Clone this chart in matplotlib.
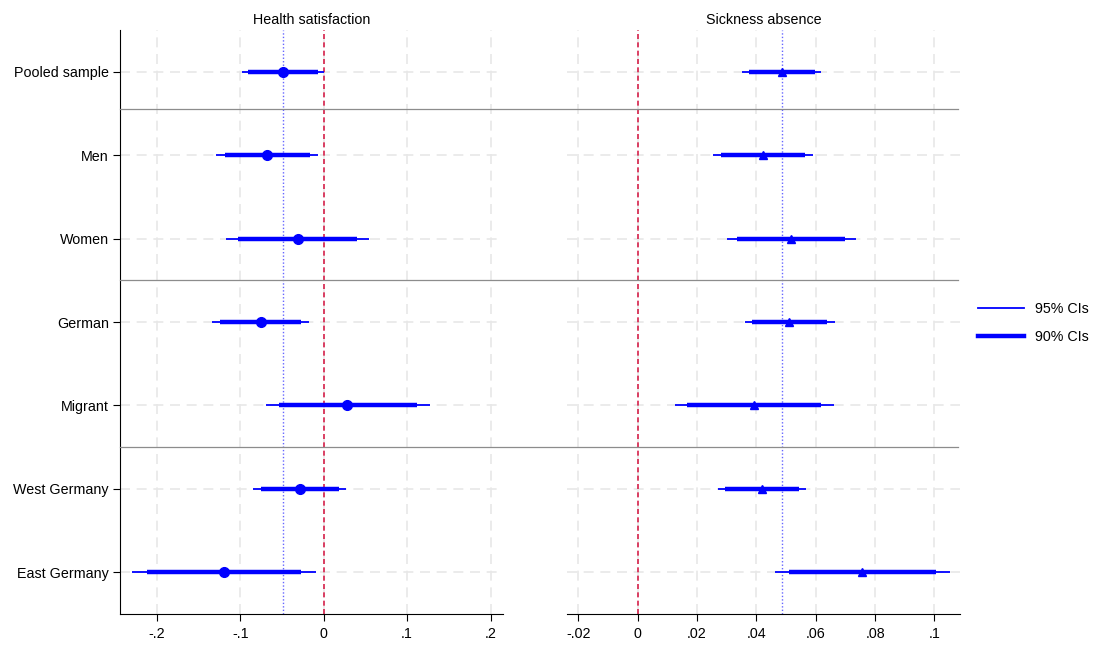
import matplotlib
matplotlib.use("Agg")
import matplotlib.pyplot as plt
from matplotlib.lines import Line2D

plt.rcParams['font.family'] = ['Liberation Sans', 'DejaVu Sans']

groups = ["Pooled sample", "Men", "Women", "German", "Migrant", "West Germany", "East Germany"]

# health satisfaction: estimate, 90% CI, 95% CI
hs_est = [-0.049, -0.068, -0.0315, -0.0758, 0.0284, -0.029, -0.1198]
hs_lo90 = [-0.0907, -0.119, -0.103, -0.124, -0.0539, -0.0758, -0.2124]
hs_hi90 = [-0.0068, -0.0164, 0.040, -0.0275, 0.1114, 0.018, -0.0275]
hs_lo95 = [-0.0986, -0.129, -0.117, -0.1337, -0.0695, -0.085, -0.2299]
hs_hi95 = [0.0004, -0.0064, 0.054, -0.018, 0.1273, 0.027, -0.0096]

# sickness absence
sa_est = [0.0485, 0.0422, 0.0516, 0.0511, 0.0393, 0.0418, 0.0757]
sa_lo90 = [0.0375, 0.0281, 0.0335, 0.0385, 0.0167, 0.0293, 0.0509]
sa_hi90 = [0.0598, 0.0564, 0.0699, 0.0638, 0.0618, 0.0543, 0.1006]
sa_lo95 = [0.0353, 0.0254, 0.030, 0.036, 0.0125, 0.027, 0.0463]
sa_hi95 = [0.0618, 0.0591, 0.0735, 0.0664, 0.0661, 0.0567, 0.1053]

hs_ticks = [-0.2, -0.1, 0, 0.1, 0.2]
hs_labels = ["-.2", "-.1", "0", ".1", ".2"]
sa_ticks = [-0.02, 0, 0.02, 0.04, 0.06, 0.08, 0.1]
sa_labels = ["-.02", "0", ".02", ".04", ".06", ".08", ".1"]

separators = [0.45, 2.5, 4.5]

W, H = 1093, 646
fig = plt.figure(figsize=(W / 100, H / 100), dpi=100)
ax1 = fig.add_axes([120 / W, 32 / H, 383 / W, 584 / H])
ax2 = fig.add_axes([567 / W, 32 / H, 393 / W, 584 / H])

blue = "#0000ff"
ypos = list(range(len(groups)))
fs = 10.3


def panel(ax, est, lo90, hi90, lo95, hi95, marker, ms, ticks, labels, xlim, title):
    ax.patch.set_visible(False)
    ax.set_xlim(*xlim)
    ax.set_ylim(6.5, -0.5)
    ax.set_xticks(ticks)
    ax.set_xticklabels(labels, fontsize=fs)
    ax.set_yticks(ypos)
    ax.grid(True, color="#e8e8e8", linestyle=(0, (6, 4)), linewidth=1.2)
    ax.set_axisbelow(True)
    for s in ["top", "right"]:
        ax.spines[s].set_visible(False)
    ax.axvline(0, color="#d6204a", linestyle=(0, (3, 2)), linewidth=1.2, zorder=2)
    ax.axvline(est[0], color="#6666ff", linestyle=(0, (1, 1.5)), linewidth=1.0, zorder=2)
    ax.hlines(ypos, lo95, hi95, color=blue, linewidth=1.3, zorder=3)
    ax.hlines(ypos, lo90, hi90, color=blue, linewidth=3.2, zorder=3)
    ax.plot(est, ypos, linestyle="none", marker=marker, ms=ms, color=blue, zorder=4)
    ax.set_title(title, fontsize=fs, pad=4)
    ax.tick_params(axis="x", length=5, pad=4)


panel(ax1, hs_est, hs_lo90, hs_hi90, hs_lo95, hs_hi95, "o", 7, hs_ticks, hs_labels,
      (-0.2444, 0.2149), "Health satisfaction")
panel(ax2, sa_est, sa_lo90, sa_hi90, sa_lo95, sa_hi95, "^", 5.5, sa_ticks, sa_labels,
      (-0.0238, 0.1086), "Sickness absence")

ax1.set_yticklabels(groups, fontsize=fs)
ax1.tick_params(axis="y", length=5, pad=3)
ax2.spines["left"].set_visible(False)
ax2.tick_params(axis="y", left=False, labelleft=False)

# separators across both panels, in figure coordinates
x0 = ax1.get_position().x0
x1 = 958 / W
for s in separators:
    yd = ax1.transData.transform((0, s))[1]
    yf = fig.transFigure.inverted().transform((0, yd))[1]
    fig.add_artist(Line2D([x0, x1], [yf, yf], color="#8c8c8c", linewidth=0.9, zorder=5))

handles = [Line2D([], [], color=blue, linewidth=1.3),
           Line2D([], [], color=blue, linewidth=3.2)]
fig.legend(handles, ["95% CIs", "90% CIs"], loc="center left",
           bbox_to_anchor=(965 / W, 1 - 323 / H), frameon=False, fontsize=fs,
           handlelength=3.2, labelspacing=1.0)

fig.savefig("out.png", dpi=100)
